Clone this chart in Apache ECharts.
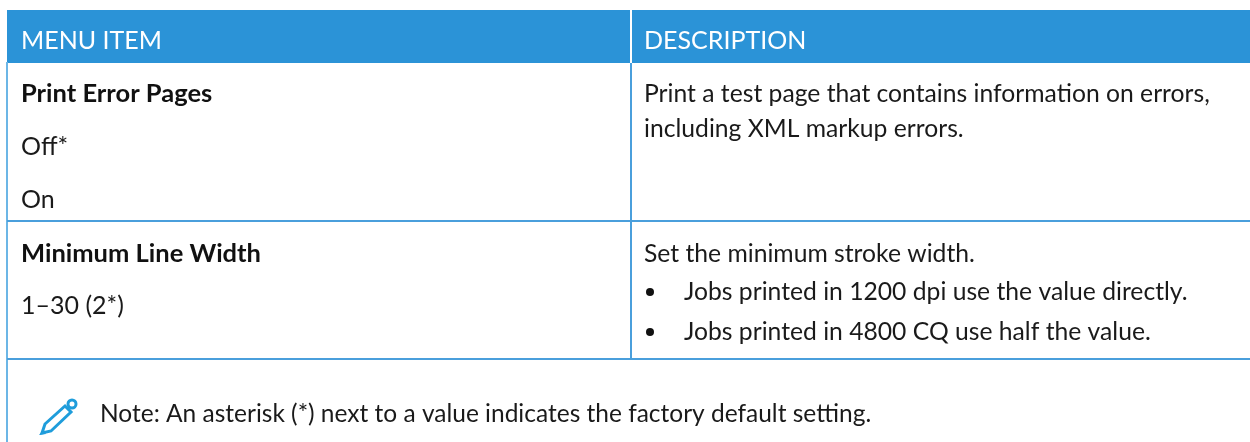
<!DOCTYPE html>
<html><head><meta charset="utf-8">
<style>html,body{margin:0;padding:0;background:#fff}#c{width:1250px;height:442px}</style>
<script src="https://cdn.jsdelivr.net/npm/echarts@6/dist/echarts.min.js"></script>
</head><body><div id="c"></div>
<script>
const headers = ["MENU ITEM", "DESCRIPTION"];
const leftCells = [
  ["Print Error Pages", 94, true],
  ["Off*", 147, false],
  ["On", 200, false],
  ["Minimum Line Width", 254, true],
  ["1\u201330 (2*)", 306, false]
];
const rightCells = [
  ["Print a test page that contains information on errors,", 94],
  ["including XML markup errors.", 129],
  ["Set the minimum stroke width.", 254],
  ["Jobs printed in 1200 dpi use the value directly.", 292],
  ["Jobs printed in 4800 CQ use half the value.", 332]
];
const bulletRows = [292, 332];
const noteText = "Note: An asterisk (*) next to a value indicates the factory default setting.";
const FONT = "Lato";
const BLUE = "#2b93d7", LINE = "#4a9fdc", SIDE = "#6cb6e6", INK = "#1a1a1a", PEN = "#1f9ddb";
const txt = (x, y, s, size, color, weight) => ({
  type: "text", x, y,
  style: { text: s, fontFamily: FONT, fontSize: size, fill: color, fontWeight: weight || 400, verticalAlign: "middle" }
});
const rect = (x, y, w, h, fill) => ({ type: "rect", shape: { x, y, width: w, height: h }, style: { fill } });
const els = [
  rect(7, 10, 1243, 53, BLUE),
  rect(6, 62, 2, 380, SIDE),
  rect(630, 10, 2, 53, "#ffffff"),
  rect(630, 63, 2, 295, LINE),
  rect(7, 220, 1243, 2, LINE),
  rect(7, 358, 1243, 2, LINE),
  txt(21, 41, headers[0], 25, "#ffffff"),
  txt(644, 41, headers[1], 25, "#ffffff")
];
leftCells.forEach(c => els.push(txt(21, c[1], c[0], c[2] ? 25.5 : 25, c[2] ? "#111" : INK, c[2] ? 700 : 400)));
rightCells.forEach((c, i) => els.push(txt(i >= 3 ? 684 : 644, c[1], c[0], 24.7, INK)));
bulletRows.forEach(y => els.push({ type: "circle", shape: { cx: 650, cy: y, r: 4 }, style: { fill: "#111" } }));
els.push(txt(100, 414, noteText, 24.5, INK));
els.push({ type: "polygon", shape: { points: [[45,424],[65,406],[71,412],[51,431],[42,433]] }, style: { fill: "none", stroke: PEN, lineWidth: 3 } });
els.push({ type: "polygon", shape: { points: [[39,435],[43,430],[46,434]] }, style: { fill: PEN } });
els.push({ type: "circle", shape: { cx: 72, cy: 404, r: 4 }, style: { fill: "none", stroke: PEN, lineWidth: 3 } });
const chart = echarts.init(document.getElementById("c"), null, { renderer: "canvas" });
chart.setOption({ animation: false, backgroundColor: "#fff", graphic: { elements: els } });
</script></body></html>
